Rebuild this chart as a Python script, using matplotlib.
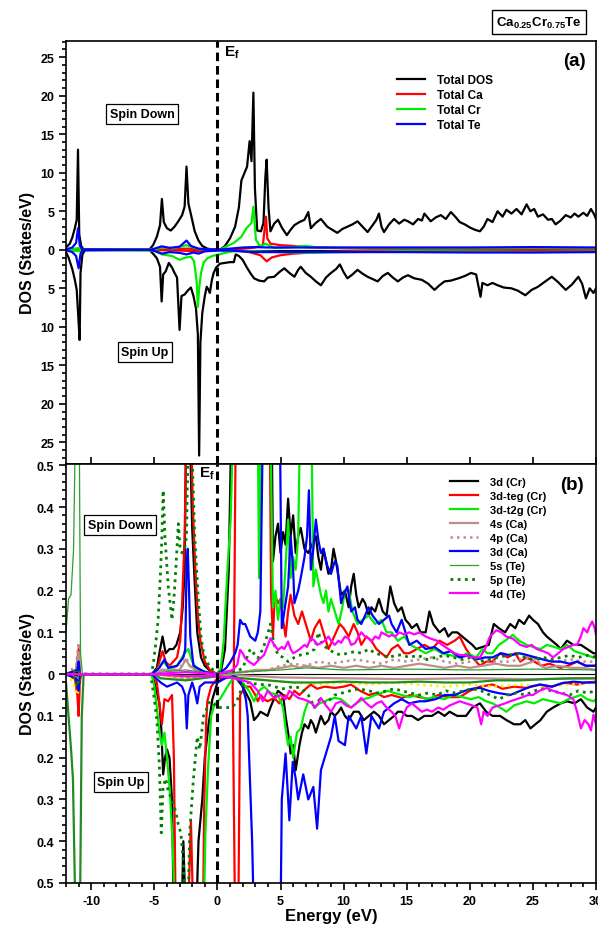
import numpy as np
import matplotlib
matplotlib.use("Agg")
import matplotlib.pyplot as plt
from matplotlib.ticker import MultipleLocator, FuncFormatter

plt.rcParams['font.family'] = ['Liberation Sans', 'DejaVu Sans']
plt.rcParams['font.weight'] = 'bold'
plt.rcParams['axes.unicode_minus'] = False
plt.rcParams['mathtext.fontset'] = 'custom'
plt.rcParams['mathtext.rm'] = 'Liberation Sans:bold'
plt.rcParams['mathtext.bf'] = 'Liberation Sans:bold'
plt.rcParams['mathtext.default'] = 'bf'

# ---- panel (a): total DOS, (energy, DOS) pairs; spin up stored as magnitudes
tot_dn = [(-12, 0.3), (-11.7, 0.8), (-11.5, 1.6), (-11.3, 2.8), (-11.15, 3.9), (-11.05, 13.0), (-10.95, 2.0),
          (-10.8, 0.5), (-10.6, 0.05), (-5.4, 0.0), (-5.1, 0.6), (-4.8, 1.7), (-4.55, 3.2), (-4.4, 6.6),
          (-4.25, 3.6), (-4.0, 2.8), (-3.7, 2.5), (-3.4, 3.0), (-3.1, 3.7), (-2.8, 4.5), (-2.6, 5.6),
          (-2.45, 10.8), (-2.3, 6.0), (-2.1, 4.6), (-1.8, 2.4), (-1.5, 1.2), (-1.2, 0.5), (-0.8, 0.15),
          (-0.4, 0.05), (0.2, 0.0), (0.6, 0.5), (1.0, 1.5), (1.4, 3.0), (1.7, 5.5), (1.9, 9.0), (2.1, 9.8),
          (2.35, 10.8), (2.55, 14.1), (2.7, 11.5), (2.85, 20.4), (2.97, 8.0), (3.15, 2.5), (3.45, 2.4),
          (3.65, 3.5), (3.8, 9.5), (3.9, 11.7), (4.05, 5.5), (4.2, 2.4), (4.5, 3.4), (4.8, 3.9), (5.1, 2.9),
          (5.5, 1.9), (5.8, 2.6), (6.1, 3.2), (6.5, 3.6), (6.9, 3.9), (7.2, 4.9), (7.4, 2.8), (7.8, 3.5),
          (8.2, 4.0), (8.5, 3.4), (8.7, 3.0), (9.1, 2.6), (9.5, 2.2), (9.9, 2.7), (10.3, 3.0), (10.7, 3.3),
          (11.1, 3.7), (11.5, 3.0), (11.9, 2.3), (12.3, 3.2), (12.6, 3.9), (12.8, 4.7), (13.0, 3.0),
          (13.2, 2.3), (13.6, 3.3), (14.0, 4.0), (14.4, 3.4), (14.8, 3.9), (15.1, 3.7), (15.5, 3.3),
          (15.9, 4.0), (16.2, 3.8), (16.4, 4.7), (16.9, 3.7), (17.3, 4.2), (17.7, 4.5), (18.1, 4.0),
          (18.5, 4.9), (18.9, 4.2), (19.2, 3.6), (19.6, 3.3), (20.0, 2.9), (20.4, 2.6), (20.8, 2.4),
          (21.1, 3.0), (21.4, 4.0), (21.8, 3.6), (22.2, 5.0), (22.6, 4.3), (22.9, 5.2), (23.3, 4.7),
          (23.7, 5.3), (24.1, 4.6), (24.5, 5.9), (24.8, 5.0), (25.1, 5.3), (25.4, 4.3), (25.8, 4.6),
          (26.2, 3.9), (26.5, 4.0), (26.8, 3.3), (27.2, 3.8), (27.6, 4.5), (28.0, 4.2), (28.3, 4.7),
          (28.6, 4.3), (29.0, 4.8), (29.3, 4.4), (29.6, 5.3), (29.85, 4.6), (30.0, 4.0)]
tot_up = [(-12, 0.3), (-11.8, 1.0), (-11.5, 2.5), (-11.3, 3.9), (-11.15, 5.2), (-11.05, 8.0), (-10.92, 11.7),
          (-10.85, 3.0), (-10.7, 0.6), (-10.5, 0.05), (-5.4, 0.0), (-5.1, 0.5), (-4.8, 1.1), (-4.55, 2.2),
          (-4.42, 6.7), (-4.3, 3.2), (-4.1, 2.8), (-3.85, 1.7), (-3.6, 2.3), (-3.4, 3.0), (-3.2, 3.6),
          (-3.0, 10.4), (-2.85, 6.0), (-2.6, 5.8), (-2.3, 5.2), (-2.1, 4.9), (-1.9, 6.0), (-1.7, 7.6),
          (-1.55, 11.0), (-1.45, 26.7), (-1.35, 12.0), (-1.2, 8.2), (-1.0, 6.0), (-0.85, 4.8), (-0.7, 5.2),
          (-0.6, 5.6), (-0.45, 4.0), (-0.3, 3.0), (-0.1, 2.3), (0.2, 1.8), (0.6, 1.7), (1.0, 1.6), (1.3, 1.6),
          (1.45, 0.6), (1.7, 0.8), (2.0, 1.3), (2.3, 2.2), (2.6, 3.0), (2.9, 3.7), (3.3, 4.0), (3.7, 4.1),
          (4.0, 3.6), (4.5, 3.5), (4.9, 2.9), (5.3, 2.4), (5.7, 3.0), (6.1, 3.5), (6.4, 2.6), (6.6, 2.2),
          (7.0, 3.0), (7.4, 3.5), (7.8, 4.1), (8.2, 4.6), (8.6, 3.6), (9.0, 3.0), (9.4, 2.5), (9.7, 1.9),
          (10.0, 2.9), (10.3, 3.7), (10.7, 3.2), (11.1, 2.6), (11.5, 3.1), (11.9, 3.5), (12.3, 3.8),
          (12.7, 4.1), (13.1, 3.4), (13.5, 3.0), (13.9, 3.6), (14.3, 4.1), (14.7, 3.6), (15.1, 3.3),
          (15.6, 3.7), (16.2, 3.9), (16.7, 4.4), (17.2, 5.2), (17.6, 4.6), (18.0, 4.1), (18.5, 4.0),
          (19.1, 3.7), (19.6, 3.4), (20.1, 3.0), (20.5, 3.2), (20.85, 6.1), (21.0, 4.3), (21.4, 4.6),
          (21.8, 4.3), (22.2, 4.6), (22.7, 4.9), (23.3, 5.0), (23.8, 5.3), (24.4, 5.9), (24.9, 5.2),
          (25.4, 4.8), (25.9, 4.2), (26.5, 3.5), (27.0, 4.2), (27.6, 5.2), (28.1, 4.5), (28.6, 3.5),
          (28.9, 4.4), (29.2, 6.3), (29.5, 5.0), (29.8, 5.6), (30.0, 5.0)]
ca_dn = [(-12, 0), (-11.05, 0.15), (-10.8, 0), (-4.4, 0.05), (-2.45, 0.15), (-1.0, 0.05), (0, 0.0), (1.5, 0.05),
         (3.0, 0.3), (3.6, 0.6), (3.85, 4.3), (3.95, 1.5), (4.2, 0.8), (5.0, 0.6), (6.0, 0.5), (7.0, 0.35),
         (8.0, 0.3), (9.0, 0.25), (10, 0.2), (12, 0.15), (15, 0.12), (20, 0.1), (25, 0.1), (30, 0.1)]
ca_up = [(-12, 0), (-11, 0.1), (-10.8, 0), (-4.4, 0.05), (-3.0, 0.1), (-1.5, 0.2), (-0.5, 0.1), (0, 0.05),
         (1.5, 0.1), (2.5, 0.3), (3.4, 0.7), (3.9, 1.5), (4.3, 1.0), (5, 0.7), (6, 0.5), (7, 0.4), (8, 0.3),
         (10, 0.2), (12, 0.15), (15, 0.1), (20, 0.1), (30, 0.1)]
cr_dn = [(-12, 0), (-11, 0.2), (-10.8, 0), (-5, 0.05), (-4.4, 0.3), (-3.5, 0.2), (-2.45, 0.6), (-1.5, 0.1),
         (0, 0.05), (0.3, 0.1), (0.8, 0.5), (1.3, 0.9), (1.9, 1.7), (2.3, 2.8), (2.7, 3.5), (2.85, 5.6),
         (3.05, 1.3), (3.4, 0.4), (3.8, 0.8), (4.5, 0.25), (5.5, 0.3), (7, 0.5), (8, 0.3), (10, 0.25),
         (15, 0.2), (20, 0.2), (25, 0.25), (30, 0.2)]
cr_up = [(-12, 0), (-11, 0.2), (-10.8, 0), (-5, 0.1), (-4.4, 0.6), (-3.6, 0.8), (-3.0, 1.3), (-2.5, 1.0),
         (-2.1, 0.9), (-1.85, 1.5), (-1.65, 4.0), (-1.55, 7.4), (-1.45, 5.0), (-1.3, 3.0), (-1.1, 1.7),
         (-0.8, 1.1), (-0.4, 0.8), (0, 0.65), (0.6, 0.4), (1.2, 0.2), (2, 0.15), (3, 0.2), (5, 0.3), (7, 0.4),
         (10, 0.3), (15, 0.2), (20, 0.25), (25, 0.3), (30, 0.25)]
te_dn = [(-12, 0.05), (-11.5, 0.3), (-11.2, 0.9), (-11.05, 2.8), (-10.9, 0.5), (-10.7, 0.05), (-5.3, 0),
         (-4.9, 0.2), (-4.4, 0.45), (-3.8, 0.25), (-3.0, 0.4), (-2.45, 1.2), (-2.1, 0.5), (-1.5, 0.15),
         (-0.5, 0.05), (0.3, 0.05), (1.0, 0.15), (2.0, 0.3), (3.0, 0.35), (4, 0.3), (6, 0.3), (10, 0.3),
         (15, 0.3), (20, 0.3), (25, 0.35), (30, 0.3)]
te_up = [(-12, 0.05), (-11.5, 0.3), (-11.2, 0.8), (-11.0, 2.4), (-10.85, 0.5), (-10.7, 0.05), (-5.3, 0),
         (-4.9, 0.2), (-4.4, 0.5), (-3.8, 0.3), (-3.0, 0.4), (-2.45, 0.6), (-1.9, 0.35), (-1.5, 0.5),
         (-1.0, 0.2), (0, 0.1), (1.0, 0.1), (2.0, 0.2), (3, 0.3), (5, 0.3), (10, 0.3), (15, 0.3), (20, 0.35),
         (25, 0.35), (30, 0.3)]

# ---- panel (b): partial DOS
cr3d_dn = [(-12, 0), (-11.1, 0.005), (-11.0, 0.02), (-10.9, 0), (-5.2, 0), (-4.8, 0.015), (-4.6, 0.05),
           (-4.35, 0.09), (-4.1, 0.05), (-3.8, 0.06), (-3.5, 0.06), (-3.25, 0.07), (-2.95, 0.1), (-2.75, 0.16),
           (-2.6, 0.25), (-2.48, 0.6), (-2.2, 0.6), (-2.0, 0.35), (-1.85, 0.25), (-1.6, 0.1), (-1.3, 0.04),
           (-1.0, 0.02), (-0.5, 0.005), (0, 0), (0.3, 0.01), (0.6, 0.06), (0.9, 0.25), (1.1, 0.6), (4.3, 0.6),
           (4.4, 0.27), (4.6, 0.33), (4.8, 0.36), (5.0, 0.29), (5.2, 0.34), (5.4, 0.31), (5.6, 0.42), (5.8, 0.33),
           (6.0, 0.38), (6.2, 0.29), (6.4, 0.33), (6.6, 0.35), (6.9, 0.3), (7.2, 0.29), (7.5, 0.31), (7.8, 0.33),
           (8.0, 0.28), (8.2, 0.25), (8.4, 0.3), (8.6, 0.27), (8.8, 0.24), (9.0, 0.25), (9.2, 0.3), (9.4, 0.27),
           (9.6, 0.23), (9.8, 0.19), (10.1, 0.2), (10.4, 0.16), (10.6, 0.21), (10.8, 0.24), (11.0, 0.19),
           (11.2, 0.16), (11.5, 0.18), (11.7, 0.17), (12.0, 0.14), (12.2, 0.16), (12.5, 0.15), (12.8, 0.18),
           (13.1, 0.15), (13.4, 0.14), (13.7, 0.21), (14.0, 0.17), (14.3, 0.15), (14.6, 0.16), (14.9, 0.13),
           (15.2, 0.12), (15.4, 0.11), (15.8, 0.12), (16.1, 0.1), (16.5, 0.1), (16.8, 0.15), (17.1, 0.12),
           (17.6, 0.1), (18.0, 0.11), (18.3, 0.09), (18.6, 0.1), (19.0, 0.1), (19.4, 0.09), (19.8, 0.08),
           (20.2, 0.07), (20.5, 0.06), (21.0, 0.065), (21.5, 0.07), (21.9, 0.12), (22.3, 0.11), (22.8, 0.1),
           (23.2, 0.12), (23.6, 0.11), (23.9, 0.13), (24.3, 0.12), (24.7, 0.14), (25.0, 0.13), (25.4, 0.12),
           (25.8, 0.1), (26.1, 0.09), (26.5, 0.08), (26.9, 0.07), (27.2, 0.06), (27.7, 0.08), (28.2, 0.07),
           (28.8, 0.07), (29.3, 0.06), (29.8, 0.05), (30, 0.05)]
cr3d_up = [(-12, 0), (-11.1, 0.005), (-11.0, 0.02), (-10.9, 0), (-5.2, 0), (-4.9, 0.03), (-4.6, 0.07),
           (-4.45, 0.13), (-4.3, 0.24), (-4.15, 0.2), (-4.0, 0.18), (-3.8, 0.2), (-3.6, 0.3), (-3.45, 0.6),
           (-2.85, 0.6), (-2.7, 0.4), (-2.5, 0.6), (-1.7, 0.6), (-1.5, 0.4), (-1.2, 0.3), (-1.0, 0.2),
           (-0.7, 0.12), (-0.4, 0.06), (0, 0.02), (0.5, 0.01), (1.0, 0.005), (1.5, 0.01), (2.0, 0.03),
           (2.6, 0.065), (2.9, 0.11), (3.2, 0.1), (3.4, 0.09), (3.7, 0.095), (3.97, 0.1), (4.2, 0.08),
           (4.4, 0.065), (4.8, 0.04), (5.2, 0.05), (5.4, 0.1), (5.6, 0.14), (5.8, 0.19), (6.0, 0.17), (6.2, 0.23),
           (6.5, 0.17), (6.7, 0.14), (6.9, 0.12), (7.2, 0.13), (7.4, 0.11), (7.6, 0.12), (7.8, 0.14), (8.0, 0.12),
           (8.2, 0.1), (8.5, 0.12), (8.8, 0.11), (9.0, 0.09), (9.3, 0.1), (9.6, 0.09), (9.8, 0.08), (10.1, 0.1),
           (10.4, 0.11), (10.8, 0.09), (11.2, 0.09), (11.6, 0.11), (12.0, 0.1), (12.4, 0.09), (12.8, 0.1),
           (13.2, 0.12), (13.6, 0.11), (14.0, 0.1), (14.3, 0.09), (14.6, 0.09), (15.0, 0.1), (15.4, 0.1),
           (15.9, 0.11), (16.4, 0.1), (17.0, 0.1), (17.5, 0.09), (18.0, 0.1), (18.4, 0.09), (19.0, 0.1),
           (19.7, 0.1), (20.2, 0.08), (20.8, 0.07), (21.3, 0.09), (21.8, 0.1), (22.4, 0.1), (22.9, 0.11),
           (23.5, 0.12), (24.0, 0.12), (24.4, 0.11), (24.8, 0.13), (25.2, 0.12), (25.6, 0.11), (26.1, 0.09),
           (26.6, 0.08), (27.2, 0.07), (27.7, 0.065), (28.3, 0.07), (28.8, 0.06), (29.3, 0.08), (29.8, 0.09),
           (30, 0.08)]
teg_dn = [(-12, 0), (-11.2, 0.01), (-11.0, 0.06), (-10.9, 0), (-5.2, 0), (-4.8, 0.01), (-4.35, 0.055),
          (-4.1, 0.03), (-3.8, 0.02), (-3.5, 0.03), (-3.2, 0.04), (-2.95, 0.08), (-2.8, 0.17), (-2.6, 0.33),
          (-2.45, 0.6), (-2.1, 0.6), (-1.95, 0.4), (-1.75, 0.25), (-1.55, 0.14), (-1.35, 0.08), (-1.0, 0.03),
          (-0.6, 0.01), (0, 0), (1.3, 0.005), (1.45, 0.6), (4.15, 0.6), (4.25, 0.19), (4.4, 0.09), (4.55, 0.19),
          (4.8, 0.17), (5.0, 0.18), (5.2, 0.13), (5.4, 0.09), (5.6, 0.15), (5.8, 0.19), (6.1, 0.14), (6.4, 0.12),
          (6.7, 0.15), (6.9, 0.13), (7.2, 0.1), (7.4, 0.08), (7.7, 0.11), (8.1, 0.13), (8.4, 0.1), (8.8, 0.06),
          (9.1, 0.08), (9.4, 0.1), (9.7, 0.12), (10.0, 0.11), (10.4, 0.09), (10.8, 0.12), (11.1, 0.1),
          (11.4, 0.07), (11.8, 0.09), (12.2, 0.08), (12.6, 0.06), (13.0, 0.05), (13.4, 0.04), (13.8, 0.06),
          (14.3, 0.07), (14.8, 0.05), (15.2, 0.05), (15.8, 0.06), (16.4, 0.07), (17.0, 0.06), (17.6, 0.08),
          (18.2, 0.07), (18.8, 0.08), (19.2, 0.09), (19.7, 0.06), (20.2, 0.04), (20.8, 0.02), (21.3, 0.03),
          (21.8, 0.03), (22.4, 0.05), (23.0, 0.04), (23.6, 0.05), (24.0, 0.03), (24.5, 0.04), (25.1, 0.03),
          (25.7, 0.02), (26.3, 0.025), (27.2, 0.015), (27.8, 0.02), (28.5, 0.03), (29.2, 0.02), (29.8, 0.02),
          (30, 0.02)]
teg_up = [(-12, 0), (-11.3, 0.01), (-11.1, 0.05), (-11.0, 0.1), (-10.9, 0.02), (-10.8, 0), (-5.2, 0),
          (-4.8, 0.02), (-4.6, 0.07), (-4.4, 0.12), (-4.2, 0.06), (-3.9, 0.065), (-3.6, 0.05), (-3.45, 0.2),
          (-3.3, 0.6), (-2.35, 0.6), (-2.1, 0.35), (-1.9, 0.6), (-1.15, 0.6), (-1.05, 0.32), (-0.9, 0.12),
          (-0.8, 0.065), (-0.5, 0.03), (0, 0.01), (1.2, 0.005), (1.4, 0.6), (1.65, 0.6), (1.8, 0.05),
          (2.2, 0.03), (2.6, 0.03), (3.0, 0.05), (3.2, 0.065), (3.44, 0.05), (3.7, 0.06), (3.97, 0.065),
          (4.5, 0.057), (4.9, 0.07), (5.3, 0.05), (5.7, 0.06), (6.1, 0.04), (6.5, 0.05), (7.0, 0.035),
          (7.4, 0.025), (7.9, 0.035), (8.5, 0.03), (9.3, 0.033), (10.0, 0.03), (10.6, 0.025), (11.3, 0.04),
          (12.0, 0.05), (12.6, 0.045), (13.2, 0.055), (13.8, 0.05), (14.6, 0.057), (15.3, 0.05), (16.0, 0.055),
          (16.8, 0.06), (17.5, 0.05), (18.3, 0.055), (19.2, 0.055), (20.0, 0.04), (20.8, 0.03), (21.8, 0.025),
          (22.6, 0.035), (23.5, 0.03), (24.5, 0.033), (25.5, 0.025), (26.5, 0.03), (27.5, 0.02), (28.5, 0.025),
          (29.3, 0.02), (30, 0.018)]
t2g_dn = [(-12, 0), (-11.0, 0.01), (-10.9, 0), (-5.2, 0), (-4.8, 0.01), (-4.3, 0.03), (-4.0, 0.02), (-3.6, 0.015),
          (-3.2, 0.02), (-2.9, 0.035), (-2.6, 0.05), (-2.3, 0.06), (-2.0, 0.03), (-1.6, 0.01), (0, 0),
          (0.26, 0.014), (0.5, 0.08), (0.65, 0.17), (0.85, 0.28), (1.05, 0.37), (1.25, 0.6), (3.2, 0.6),
          (3.3, 0.23), (3.45, 0.6), (4.2, 0.6), (4.4, 0.16), (4.6, 0.2), (4.8, 0.13), (5.0, 0.18), (5.2, 0.16),
          (5.4, 0.26), (5.6, 0.37), (5.8, 0.23), (6.0, 0.28), (6.2, 0.25), (6.4, 0.33), (6.55, 0.6), (7.45, 0.6),
          (7.6, 0.21), (7.8, 0.25), (8.0, 0.22), (8.2, 0.19), (8.4, 0.17), (8.6, 0.2), (8.8, 0.15), (9.0, 0.18),
          (9.2, 0.16), (9.4, 0.14), (9.6, 0.12), (9.9, 0.16), (10.1, 0.2), (10.4, 0.2), (10.7, 0.15),
          (11.1, 0.12), (11.5, 0.13), (12.0, 0.14), (12.5, 0.12), (13.0, 0.13), (13.4, 0.1), (13.8, 0.1),
          (14.3, 0.08), (14.8, 0.09), (15.3, 0.07), (15.9, 0.06), (16.5, 0.05), (17.2, 0.06), (17.8, 0.05),
          (18.5, 0.045), (19.2, 0.04), (19.8, 0.05), (20.5, 0.04), (21.0, 0.06), (21.4, 0.05), (21.8, 0.05),
          (22.3, 0.07), (22.8, 0.08), (23.4, 0.094), (23.9, 0.08), (24.5, 0.07), (25.0, 0.065), (25.6, 0.06),
          (26.1, 0.07), (26.7, 0.065), (27.2, 0.06), (27.7, 0.07), (28.3, 0.055), (28.8, 0.05), (29.3, 0.045),
          (29.8, 0.04), (30, 0.045)]
t2g_up = [(-12, 0), (-11.0, 0.01), (-10.9, 0), (-5.2, 0), (-5.0, 0.03), (-4.8, 0.08), (-4.6, 0.14), (-4.4, 0.17),
          (-4.2, 0.14), (-4.0, 0.2), (-3.8, 0.27), (-3.55, 0.4), (-3.35, 0.6), (-1.1, 0.6), (-0.95, 0.38),
          (-0.75, 0.23), (-0.5, 0.1), (-0.25, 0.075), (0, 0.065), (0.2, 0.06), (0.5, 0.045), (0.8, 0.03),
          (1.3, 0.006), (2.0, 0.02), (2.5, 0.04), (2.9, 0.065), (3.3, 0.04), (3.7, 0.03), (4.2, 0.045),
          (4.8, 0.05), (5.2, 0.08), (5.4, 0.13), (5.6, 0.17), (5.8, 0.15), (6.0, 0.2), (6.3, 0.14), (6.6, 0.13),
          (6.9, 0.09), (7.2, 0.065), (7.5, 0.07), (7.7, 0.08), (8.1, 0.07), (8.5, 0.065), (8.9, 0.06),
          (9.3, 0.057), (9.8, 0.06), (10.2, 0.07), (10.6, 0.08), (11.0, 0.07), (11.5, 0.06), (12.0, 0.057),
          (12.5, 0.05), (13.0, 0.045), (13.5, 0.04), (14.0, 0.045), (14.6, 0.05), (15.2, 0.055), (15.9, 0.05),
          (16.5, 0.06), (17.2, 0.055), (18.0, 0.06), (18.7, 0.05), (19.4, 0.055), (20.1, 0.06), (20.7, 0.055),
          (21.3, 0.065), (21.8, 0.07), (22.4, 0.08), (22.9, 0.09), (23.5, 0.075), (24.0, 0.07), (24.5, 0.065),
          (25.1, 0.07), (25.8, 0.06), (26.5, 0.065), (27.2, 0.07), (27.8, 0.06), (28.3, 0.055), (28.8, 0.05),
          (29.3, 0.06), (29.8, 0.065), (30, 0.06)]
ca4s_dn = [(-12, 0), (-11.2, 0.01), (-11.0, 0.05), (-10.9, 0), (-5.2, 0), (-4.4, 0.01), (-3.0, 0.01),
           (-2.5, 0.035), (-2.2, 0.02), (-1.5, 0.005), (0, 0), (1.0, 0.002), (2.0, 0.005), (3.0, 0.01),
           (4.0, 0.01), (5.0, 0.015), (6.0, 0.02), (6.5, 0.015), (7.0, 0.02), (8.0, 0.015), (9.0, 0.02),
           (10, 0.015), (11, 0.02), (12, 0.015), (13, 0.02), (14, 0.015), (15, 0.02), (16, 0.025), (17, 0.02),
           (18, 0.015), (19, 0.02), (20, 0.015), (21, 0.02), (22, 0.025), (23, 0.02), (24, 0.02), (25, 0.03),
           (25.3, 0.04), (25.6, 0.02), (26, 0.015), (27, 0.02), (28, 0.015), (29, 0.015), (30, 0.01)]
ca4s_up = [(-12, 0), (-11.0, 0.01), (-10.9, 0), (-5, 0), (-2.5, 0.01), (0, 0), (5, 0.008), (10, 0.01),
           (15, 0.012), (20, 0.01), (25, 0.012), (30, 0.01)]
ca4p_dn = [(-12, 0), (-11.2, 0.02), (-11.0, 0.075), (-10.9, 0), (-5.2, 0), (-4.4, 0.01), (-2.8, 0.02),
           (-2.5, 0.04), (-2.2, 0.02), (-1.5, 0.005), (0, 0), (2, 0.005), (4, 0.01), (5, 0.02), (6, 0.025),
           (7, 0.02), (8, 0.03), (9, 0.025), (10, 0.03), (11, 0.035), (12, 0.03), (13, 0.025), (14, 0.035),
           (15, 0.03), (16, 0.035), (17, 0.04), (18, 0.03), (19, 0.025), (20, 0.03), (21, 0.035), (22, 0.03),
           (23, 0.03), (24, 0.035), (25, 0.04), (26, 0.035), (27, 0.03), (28, 0.035), (29, 0.03), (30, 0.03)]
ca4p_up = [(-12, 0), (-11.4, 0.02), (-11.15, 0.05), (-11.0, 0.04), (-10.9, 0), (-5, 0), (-2.5, 0.01),
           (0, 0.005), (2, 0.01), (4, 0.015), (6, 0.02), (8, 0.025), (10, 0.02), (12, 0.025), (14, 0.02),
           (16, 0.025), (18, 0.03), (20, 0.025), (22, 0.03), (24, 0.025), (26, 0.03), (28, 0.025), (30, 0.02)]
ca3d_dn = [(-12, 0), (-11.1, 0.01), (-11.0, 0.03), (-10.9, 0), (-5.2, 0), (-4.6, 0.015), (-4.2, 0.035),
           (-3.9, 0.015), (-3.2, 0.02), (-2.7, 0.04), (-2.55, 0.06), (-2.45, 0.25), (-2.35, 0.3), (-2.25, 0.2),
           (-2.15, 0.09), (-1.9, 0.02), (-1.0, 0.005), (0, 0), (0.3, 0.005), (0.7, 0.015), (1.05, 0.03),
           (1.4, 0.05), (1.6, 0.07), (1.8, 0.13), (2.0, 0.12), (2.2, 0.12), (2.6, 0.09), (3.0, 0.08), (3.2, 0.1),
           (3.4, 0.15), (3.6, 0.6), (4.95, 0.6), (5.1, 0.11), (5.3, 0.15), (5.6, 0.21), (5.8, 0.33), (6.0, 0.25),
           (6.1, 0.17), (6.4, 0.2), (6.6, 0.23), (6.9, 0.28), (7.1, 0.33), (7.25, 0.44), (7.4, 0.25), (7.6, 0.3),
           (7.8, 0.37), (8.0, 0.32), (8.2, 0.29), (8.4, 0.3), (8.7, 0.26), (9.0, 0.24), (9.3, 0.27), (9.5, 0.26),
           (9.8, 0.17), (10.0, 0.19), (10.3, 0.21), (10.6, 0.15), (10.9, 0.16), (11.1, 0.13), (11.4, 0.12),
           (11.7, 0.14), (11.97, 0.16), (12.3, 0.14), (12.8, 0.12), (13.2, 0.13), (13.6, 0.14), (13.8, 0.12),
           (14.2, 0.1), (14.6, 0.13), (15.2, 0.07), (15.8, 0.08), (16.5, 0.06), (17.2, 0.065), (17.9, 0.05),
           (18.5, 0.055), (19.2, 0.04), (19.9, 0.045), (20.5, 0.035), (21.2, 0.04), (21.8, 0.04), (22.5, 0.05),
           (23.2, 0.045), (23.9, 0.05), (24.5, 0.046), (25.2, 0.04), (25.8, 0.035), (26.5, 0.03), (27.2, 0.03),
           (27.9, 0.025), (28.5, 0.03), (29.2, 0.02), (29.8, 0.02), (30, 0.02)]
ca3d_up = [(-12, 0), (-11.2, 0.01), (-11.0, 0.04), (-10.9, 0), (-5.2, 0), (-4.5, 0.02), (-4.0, 0.03),
           (-3.6, 0.025), (-3.2, 0.02), (-2.8, 0.03), (-2.55, 0.05), (-2.43, 0.13), (-2.3, 0.05), (-2.0, 0.02),
           (-1.8, 0.04), (-1.6, 0.07), (-1.4, 0.03), (-1.0, 0.02), (-0.5, 0.02), (0, 0.02), (0.6, 0.01),
           (1.3, 0.005), (1.7, 0.01), (2.0, 0.03), (2.25, 0.06), (2.4, 0.1), (2.55, 0.23), (2.75, 0.4),
           (2.9, 0.6), (5.0, 0.6), (5.1, 0.3), (5.4, 0.19), (5.7, 0.35), (5.97, 0.21), (6.2, 0.25), (6.4, 0.3),
           (6.8, 0.24), (7.2, 0.3), (7.6, 0.27), (7.9, 0.37), (8.2, 0.23), (8.6, 0.19), (9.0, 0.15), (9.3, 0.1),
           (9.6, 0.16), (10.1, 0.17), (10.4, 0.1), (11.0, 0.13), (11.4, 0.1), (11.8, 0.19), (12.2, 0.1),
           (12.8, 0.13), (13.2, 0.09), (13.6, 0.08), (14.0, 0.07), (14.6, 0.06), (15.2, 0.07), (16.0, 0.065),
           (16.5, 0.065), (17.3, 0.06), (18.0, 0.05), (18.8, 0.05), (19.6, 0.04), (20.2, 0.035), (20.8, 0.033),
           (21.5, 0.04), (22.2, 0.045), (23.2, 0.05), (24.0, 0.04), (24.8, 0.03), (25.6, 0.025), (26.5, 0.03),
           (27.3, 0.022), (28.2, 0.018), (29.0, 0.02), (29.8, 0.02), (30, 0.02)]
te5s_dn = [(-12, 0.1), (-11.8, 0.18), (-11.6, 0.19), (-11.4, 0.3), (-11.25, 0.6), (-10.95, 0.6), (-10.85, 0.05),
           (-10.7, 0.0), (-5, 0), (-4.4, 0.005), (-2.5, 0.01), (0, 0), (2, 0.005), (5, 0.01), (7, 0.015),
           (10, 0.01), (15, 0.012), (20, 0.01), (25, 0.012), (30, 0.01)]
te5s_up = [(-12, 0.02), (-11.8, 0.1), (-11.6, 0.18), (-11.45, 0.25), (-11.3, 0.5), (-11.2, 0.6), (-10.9, 0.6),
           (-10.75, 0.1), (-10.6, 0.0), (-5, 0), (-4.5, 0.01), (-2.5, 0.015), (0, 0.005), (2, 0.01), (4, 0.015),
           (6, 0.02), (8, 0.02), (10, 0.018), (12, 0.02), (14, 0.02), (16, 0.018), (18, 0.02), (20, 0.02),
           (22, 0.015), (24, 0.015), (26, 0.012), (28, 0.01), (30, 0.01)]
te5p_dn = [(-12, 0), (-11.0, 0.01), (-10.9, 0), (-5.3, 0), (-5.1, 0.02), (-4.9, 0.07), (-4.7, 0.13), (-4.5, 0.25),
           (-4.4, 0.33), (-4.3, 0.44), (-4.16, 0.33), (-3.9, 0.21), (-3.6, 0.13), (-3.45, 0.18), (-3.3, 0.25),
           (-3.1, 0.36), (-2.95, 0.3), (-2.8, 0.29), (-2.6, 0.3), (-2.45, 0.33), (-2.3, 0.6), (-2.05, 0.6),
           (-1.95, 0.47), (-1.8, 0.33), (-1.5, 0.17), (-1.3, 0.09), (-1.1, 0.05), (-0.6, 0.015), (0, 0.005),
           (1.0, 0.005), (1.6, 0.008), (2.0, 0.014), (2.6, 0.06), (3.2, 0.038), (3.6, 0.06), (3.97, 0.094),
           (4.2, 0.12), (4.5, 0.07), (4.8, 0.046), (5.2, 0.04), (5.6, 0.03), (6.1, 0.04), (6.6, 0.046),
           (7.2, 0.05), (7.7, 0.06), (8.0, 0.1), (8.3, 0.07), (8.8, 0.06), (9.3, 0.05), (9.8, 0.046),
           (10.3, 0.05), (10.9, 0.054), (11.4, 0.05), (12.0, 0.06), (12.5, 0.05), (13.0, 0.046), (13.6, 0.04),
           (14.1, 0.045), (14.6, 0.046), (15.2, 0.04), (15.9, 0.045), (16.6, 0.035), (17.3, 0.04), (18.0, 0.045),
           (18.7, 0.04), (19.4, 0.035), (20.1, 0.04), (20.8, 0.03), (21.5, 0.035), (22.2, 0.04), (23.0, 0.045),
           (23.7, 0.05), (24.4, 0.04), (25.1, 0.035), (25.8, 0.04), (26.5, 0.035), (27.2, 0.04), (27.9, 0.045),
           (28.6, 0.04), (29.3, 0.045), (30, 0.04)]
te5p_up = [(-12, 0), (-11.3, 0.01), (-11.1, 0.03), (-10.9, 0), (-5.3, 0), (-5.0, 0.06), (-4.8, 0.11), (-4.6, 0.22),
           (-4.45, 0.38), (-4.3, 0.27), (-4.1, 0.25), (-3.9, 0.28), (-3.6, 0.3), (-3.3, 0.33), (-3.1, 0.36),
           (-2.9, 0.38), (-2.7, 0.45), (-2.56, 0.6), (-2.35, 0.6), (-2.2, 0.38), (-1.9, 0.25), (-1.6, 0.15),
           (-1.4, 0.18), (-1.1, 0.1), (-0.8, 0.08), (-0.6, 0.065), (-0.3, 0.07), (0, 0.08), (0.5, 0.08),
           (1.0, 0.08), (1.3, 0.075), (1.6, 0.06), (2.1, 0.02), (2.6, 0.02), (3.2, 0.025), (3.97, 0.025),
           (4.5, 0.03), (5.2, 0.035), (6.0, 0.03), (6.6, 0.033), (7.2, 0.05), (7.7, 0.08), (8.1, 0.06),
           (8.6, 0.07), (9.3, 0.05), (9.9, 0.045), (10.5, 0.04), (11.2, 0.035), (12.0, 0.04), (12.7, 0.045),
           (13.4, 0.04), (14.0, 0.035), (14.6, 0.04), (15.3, 0.045), (16.0, 0.05), (16.7, 0.045), (17.4, 0.05),
           (18.1, 0.04), (18.8, 0.045), (19.5, 0.04), (20.2, 0.035), (20.9, 0.04), (21.6, 0.05), (22.3, 0.06),
           (23.0, 0.05), (23.7, 0.045), (24.4, 0.05), (25.1, 0.04), (25.8, 0.035), (26.5, 0.04), (27.2, 0.045),
           (27.9, 0.05), (28.6, 0.04), (29.3, 0.045), (30, 0.04)]
te4d_dn = [(-12, 0), (-5, 0), (-2.5, 0.005), (0, 0), (0.8, 0.006), (1.2, 0.01), (1.57, 0.022), (1.8, 0.058),
           (2.0, 0.05), (2.2, 0.038), (2.5, 0.03), (2.9, 0.022), (3.3, 0.035), (3.7, 0.046), (4.0, 0.07),
           (4.2, 0.086), (4.5, 0.07), (4.8, 0.058), (5.1, 0.065), (5.3, 0.06), (5.6, 0.078), (5.8, 0.06),
           (6.0, 0.05), (6.3, 0.055), (6.6, 0.062), (6.9, 0.07), (7.1, 0.065), (7.4, 0.086), (7.7, 0.08),
           (7.9, 0.07), (8.2, 0.074), (8.5, 0.08), (8.8, 0.09), (9.0, 0.08), (9.3, 0.07), (9.6, 0.08),
           (9.8, 0.075), (10.1, 0.09), (10.4, 0.085), (10.6, 0.07), (10.9, 0.074), (11.1, 0.085), (11.4, 0.1),
           (11.7, 0.09), (12.0, 0.085), (12.2, 0.078), (12.5, 0.09), (12.8, 0.085), (13.0, 0.1), (13.3, 0.095),
           (13.6, 0.09), (13.8, 0.094), (14.1, 0.09), (14.4, 0.1), (14.8, 0.095), (15.2, 0.1), (15.6, 0.095),
           (16.0, 0.1), (16.5, 0.09), (16.9, 0.085), (17.4, 0.08), (17.8, 0.07), (18.3, 0.06), (18.8, 0.05),
           (19.2, 0.046), (19.7, 0.045), (20.2, 0.04), (20.8, 0.04), (21.2, 0.06), (21.6, 0.09), (22.1, 0.105),
           (22.5, 0.1), (22.9, 0.09), (23.4, 0.085), (24.0, 0.07), (24.5, 0.065), (24.9, 0.07), (25.3, 0.06),
           (25.8, 0.055), (26.2, 0.05), (26.6, 0.04), (27.0, 0.05), (27.4, 0.06), (27.8, 0.065), (28.2, 0.07),
           (28.5, 0.07), (28.8, 0.09), (29.0, 0.11), (29.3, 0.1), (29.5, 0.115), (29.7, 0.126), (29.9, 0.11),
           (30, 0.094)]
te4d_up = [(-12, 0), (-5, 0), (-2.5, 0.005), (0, 0.005), (1.0, 0.008), (2.0, 0.015), (2.6, 0.02), (3.2, 0.04),
           (3.6, 0.065), (3.97, 0.04), (4.5, 0.057), (5.0, 0.05), (5.4, 0.06), (5.7, 0.04), (6.1, 0.05),
           (6.4, 0.057), (6.8, 0.06), (7.2, 0.065), (7.5, 0.07), (7.7, 0.08), (8.0, 0.07), (8.2, 0.057),
           (8.6, 0.075), (9.0, 0.09), (9.4, 0.07), (9.8, 0.065), (10.2, 0.075), (10.6, 0.08), (11.0, 0.07),
           (11.4, 0.057), (11.8, 0.07), (12.2, 0.08), (12.6, 0.07), (13.0, 0.065), (13.4, 0.08), (13.8, 0.09),
           (14.1, 0.1), (14.4, 0.13), (14.7, 0.1), (15.0, 0.08), (15.4, 0.07), (15.8, 0.08), (16.2, 0.09),
           (16.6, 0.085), (17.0, 0.09), (17.5, 0.08), (17.9, 0.085), (18.4, 0.075), (18.8, 0.07), (19.2, 0.065),
           (19.7, 0.07), (20.2, 0.075), (20.6, 0.08), (20.9, 0.12), (21.1, 0.09), (21.4, 0.1), (21.8, 0.08),
           (22.3, 0.075), (22.8, 0.07), (23.2, 0.065), (23.7, 0.06), (24.2, 0.055), (24.6, 0.05), (25.0, 0.05),
           (25.5, 0.04), (26.1, 0.033), (26.6, 0.04), (27.1, 0.045), (27.7, 0.05), (28.2, 0.06), (28.5, 0.09),
           (28.8, 0.13), (29.1, 0.11), (29.4, 0.12), (29.6, 0.135), (29.8, 0.097), (30, 0.12)]


def draw(ax, pts, sign=1, **kw):
    e, d = zip(*pts)
    ax.plot(e, sign * np.array(d), **kw)


W, H = 598, 929


def fx(px):
    return px / W


def fy(py):
    return 1 - py / H


fig = plt.figure(figsize=(W / 100, H / 100), dpi=100)
ax_a = fig.add_axes([fx(66), fy(465), (596 - 66) / W, (465 - 42) / H])
ax_b = fig.add_axes([fx(66), fy(884), (596 - 66) / W, (884 - 465) / H])

# panel (a)
for pts_dn, pts_up, col, lab in [(tot_dn, tot_up, 'black', 'Total DOS'),
                                 (ca_dn, ca_up, 'red', 'Total Ca'),
                                 (cr_dn, cr_up, '#00ee00', 'Total Cr'),
                                 (te_dn, te_up, 'blue', 'Total Te')]:
    draw(ax_a, pts_dn, 1, color=col, lw=1.6, label=lab)
    draw(ax_a, pts_up, -1, color=col, lw=1.6)

# panel (b)
dot = (0, (1, 1.6))
series_b = [
    (cr3d_dn, cr3d_up, dict(color='black', lw=1.6), None, '3d (Cr)'),
    (teg_dn, teg_up, dict(color='red', lw=1.6), None, '3d-teg (Cr)'),
    (t2g_dn, t2g_up, dict(color='#00ee00', lw=1.6), None, '3d-t2g (Cr)'),
    (ca4s_dn, ca4s_up, dict(color='#bc8f8f', lw=1.6), None, '4s (Ca)'),
    (ca4p_dn, ca4p_up, dict(color='#bc8f8f', lw=1.8, ls=dot), dict(color='#ffee00', lw=1.8, ls=dot), '4p (Ca)'),
    (ca3d_dn, ca3d_up, dict(color='blue', lw=1.6), None, '3d (Ca)'),
    (te5s_dn, te5s_up, dict(color='#2ca02c', lw=0.9), dict(color='#228b22', lw=1.6), '5s (Te)'),
    (te5p_dn, te5p_up, dict(color='#008000', lw=2.0, ls=dot), None, '5p (Te)'),
    (te4d_dn, te4d_up, dict(color='#ff00ff', lw=1.6), None, '4d (Te)'),
]
for pts_dn, pts_up, sty, sty_up, lab in series_b:
    draw(ax_b, pts_dn, 1, label=lab, **sty)
    draw(ax_b, pts_up, -1, **(sty_up if sty_up else sty))

for ax in (ax_a, ax_b):
    ax.axhline(0, color='black', lw=0.8, zorder=1)
    ax.axvline(0, color='black', lw=2.2, ls=(0, (2.8, 1.6)), zorder=5)
    ax.set_xlim(-12, 30)
    ax.xaxis.set_major_locator(MultipleLocator(5))
    ax.xaxis.set_minor_locator(MultipleLocator(1))
    ax.tick_params(which='both', direction='out', width=1.2, labelsize=9)
    ax.tick_params(which='major', length=5)
    ax.tick_params(which='minor', length=3)
    for s in ax.spines.values():
        s.set_linewidth(1.2)
    for lbl in ax.get_xticklabels() + ax.get_yticklabels():
        lbl.set_fontweight('bold')
    ax.set_ylabel('DOS (States/eV)', fontsize=11.5, fontweight='bold')

ax_a.set_ylim(-27.8, 27.1)
ax_a.yaxis.set_major_locator(MultipleLocator(5))
ax_a.yaxis.set_minor_locator(MultipleLocator(1))
ax_a.yaxis.set_major_formatter(FuncFormatter(lambda v, p: f"{abs(v):.0f}"))
ax_a.tick_params(axis='x', labelbottom=False, direction='in')

ax_b.set_ylim(-0.5, 0.503)
ax_b.yaxis.set_major_locator(MultipleLocator(0.1))
ax_b.yaxis.set_minor_locator(MultipleLocator(0.02))
ax_b.yaxis.set_major_formatter(FuncFormatter(lambda v, p: "0" if abs(v) < 1e-9 else f"{abs(v):.1f}"))
ax_b.set_xlabel('Energy (eV)', fontsize=12, fontweight='bold', labelpad=1)
ax_a.yaxis.set_label_coords(-0.058, 0.5)
ax_b.yaxis.set_label_coords(-0.058, 0.5)

leg_a = ax_a.legend(loc='upper left', bbox_to_anchor=(fx(397), fy(75)), bbox_transform=fig.transFigure,
                    frameon=False, fontsize=8.5, handlelength=2.4, handletextpad=1.0, labelspacing=0.25,
                    borderpad=0, borderaxespad=0)
leg_b = ax_b.legend(loc='upper left', bbox_to_anchor=(fx(450), fy(478)), bbox_transform=fig.transFigure,
                    frameon=False, fontsize=8, handlelength=2.5, handletextpad=1.1, labelspacing=0.36,
                    borderpad=0, borderaxespad=0)
for leg in (leg_a, leg_b):
    for t in leg.get_texts():
        t.set_fontweight('bold')

box = dict(boxstyle='square,pad=0.3', facecolor='white', edgecolor='black', lw=0.9)
fig.text(fx(142), fy(115), 'Spin Down', fontsize=9, ha='center', va='center', bbox=box)
fig.text(fx(145), fy(353), 'Spin Up', fontsize=9, ha='center', va='center', bbox=box)
fig.text(fx(120), fy(526), 'Spin Down', fontsize=9, ha='center', va='center', bbox=box)
fig.text(fx(121), fy(783), 'Spin Up', fontsize=9, ha='center', va='center', bbox=box)

fig.text(fx(574), fy(62), '(a)', fontsize=13.5, ha='center', va='center')
fig.text(fx(572), fy(486), '(b)', fontsize=13.5, ha='center', va='center')
fig.text(fx(224), fy(45), r'E$_{f}$', fontsize=11, ha='left', va='top')
fig.text(fx(199), fy(466), r'E$_{f}$', fontsize=11, ha='left', va='top')
fig.text(fx(539), fy(23), r'Ca$_{0.25}$Cr$_{0.75}$Te', fontsize=9.5, ha='center', va='center',
         bbox=dict(boxstyle='square,pad=0.35', facecolor='white', edgecolor='black', lw=1.0))

fig.savefig('out.png', dpi=100)
